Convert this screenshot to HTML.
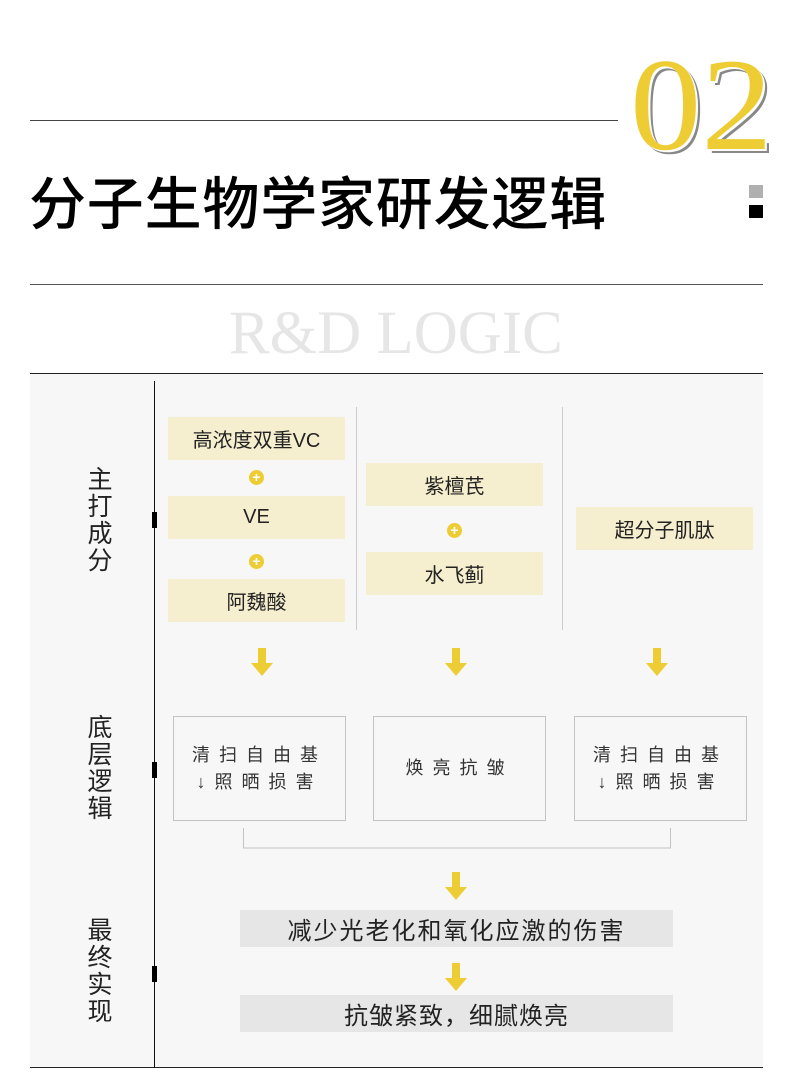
<!DOCTYPE html>
<html><head><meta charset="utf-8"><style>
*{margin:0;padding:0;box-sizing:border-box}
body{width:790px;height:1077px;background:#fff;position:relative;overflow:hidden;font-family:"Liberation Sans","Noto Sans CJK SC",sans-serif;color:#222}
.a{position:absolute}
.y{background:#f6efcf;display:flex;align-items:center;justify-content:center;font-size:20px;color:#222}
.p{width:15px;height:15px;border-radius:50%;background:#edcd33;color:#fff;font-size:14px;line-height:15px;text-align:center;font-weight:bold}
.b{border:1px solid #c3c3c3;display:flex;align-items:center;justify-content:center;text-align:center;font-size:18px;letter-spacing:9px;line-height:27px;color:#333}
.g{background:#e6e6e6;display:flex;align-items:center;justify-content:center;font-size:24px;color:#222;letter-spacing:2px}
.v{font-size:25px;line-height:27px;width:30px;text-align:center;color:#222}
.m{width:5px;height:16px;background:#000}
</style></head><body>
<div class="a" style="left:30px;top:120px;width:588px;height:1px;background:#444"></div>
<div class="a" style="left:630px;top:30px;font-family:'Liberation Serif',serif;font-size:132px;line-height:150px;color:#edcd33;text-shadow:2px 2px 0 #fff,4px 4px 0 #888;transform:scaleX(1.08);transform-origin:left top;white-space:nowrap">02</div>
<div class="a" style="left:29px;top:165px;font-size:57px;line-height:80px;font-weight:500;color:#000;letter-spacing:0.8px;white-space:nowrap">分子生物学家研发逻辑</div>
<div class="a" style="left:749px;top:185px;width:14px;height:13px;background:#b0b0b0"></div>
<div class="a" style="left:749px;top:205px;width:14px;height:13px;background:#000"></div>
<div class="a" style="left:30px;top:284px;width:733px;height:1px;background:#555"></div>
<div class="a" style="left:229px;top:294px;font-family:'Liberation Serif',serif;font-size:61px;line-height:80px;color:#e6e6e6;white-space:nowrap">R&amp;D LOGIC</div>
<div class="a" style="left:30px;top:373px;width:733px;height:695px;background:#f7f7f7;border-top:1px solid #222;border-bottom:1px solid #222"></div>
<div class="a" style="left:154px;top:381px;width:1px;height:687px;background:#111"></div>
<div class="a m" style="left:152px;top:512px"></div>
<div class="a m" style="left:152px;top:762px"></div>
<div class="a m" style="left:152px;top:966px"></div>
<div class="a v" style="left:85px;top:467px">主<br>打<br>成<br>分</div>
<div class="a v" style="left:85px;top:715px">底<br>层<br>逻<br>辑</div>
<div class="a v" style="left:85px;top:918px">最<br>终<br>实<br>现</div>
<div class="a" style="left:356px;top:407px;width:1px;height:223px;background:#ccc"></div>
<div class="a" style="left:562px;top:407px;width:1px;height:223px;background:#ccc"></div>
<div class="a y" style="left:168px;top:417px;width:177px;height:43px">高浓度双重VC</div>
<div class="a p" style="left:249px;top:470px">+</div>
<div class="a y" style="left:168px;top:496px;width:177px;height:43px">VE</div>
<div class="a p" style="left:249px;top:554px">+</div>
<div class="a y" style="left:168px;top:579px;width:177px;height:43px">阿魏酸</div>
<div class="a y" style="left:366px;top:463px;width:177px;height:43px">紫檀芪</div>
<div class="a p" style="left:447px;top:523px">+</div>
<div class="a y" style="left:366px;top:552px;width:177px;height:43px">水飞蓟</div>
<div class="a y" style="left:576px;top:507px;width:177px;height:43px">超分子肌肽</div>
<svg class="a" style="left:0;top:0" width="790" height="1077">
<g fill="#edcd33">
<path d="M258 648h8v15h7l-11 13l-11-13h7z"/>
<path d="M452 648h8v15h7l-11 13l-11-13h7z"/>
<path d="M653 648h8v15h7l-11 13l-11-13h7z"/>
<path d="M452 872h8v15h7l-11 13l-11-13h7z"/>
<path d="M452 963h8v15h7l-11 13l-11-13h7z"/>
</g>
<path d="M243.5 828v20h427v-20" fill="none" stroke="#c3c3c3" stroke-width="1"/>
</svg>
<div class="a b" style="left:173px;top:716px;width:173px;height:105px">清扫自由基<br>↓照晒损害</div>
<div class="a b" style="left:373px;top:716px;width:173px;height:105px">焕亮抗皱</div>
<div class="a b" style="left:574px;top:716px;width:173px;height:105px">清扫自由基<br>↓照晒损害</div>
<div class="a g" style="left:240px;top:910px;width:433px;height:37px">减少光老化和氧化应激的伤害</div>
<div class="a g" style="left:240px;top:995px;width:433px;height:37px;letter-spacing:1px">抗皱紧致，细腻焕亮</div>
</body></html>
